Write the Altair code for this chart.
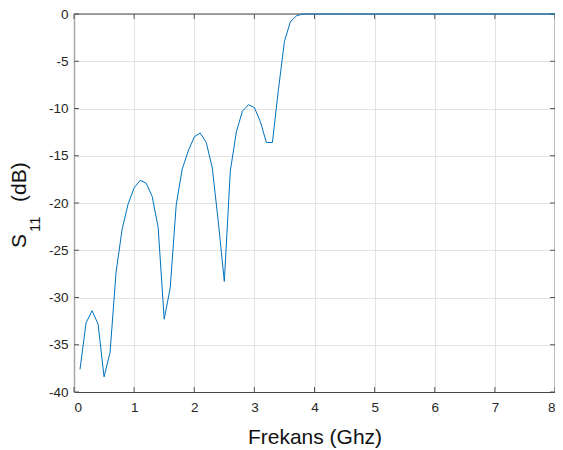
import altair as alt
import pandas as pd

# Frequency (GHz) and S11 (dB)
freq_ghz = [0.1, 0.2, 0.3, 0.4, 0.5, 0.6, 0.7, 0.8, 0.9, 1.0,
            1.1, 1.2, 1.3, 1.4, 1.5, 1.6, 1.7, 1.8, 1.9, 2.0,
            2.1, 2.2, 2.3, 2.4, 2.5, 2.6, 2.7, 2.8, 2.9, 3.0,
            3.1, 3.2, 3.3, 3.4, 3.5, 3.6, 3.7, 3.8, 3.9, 4.0,
            4.5, 5.0, 5.5, 6.0, 6.5, 7.0, 7.5, 8.0]
s11_db = [-37.6, -32.7, -31.4, -32.8, -38.4, -35.8, -27.3, -22.8, -20.1, -18.4,
          -17.6, -17.9, -19.3, -22.6, -32.3, -29.0, -20.2, -16.4, -14.5, -13.0,
          -12.6, -13.6, -16.3, -22.0, -28.3, -16.6, -12.5, -10.3, -9.6, -9.9,
          -11.4, -13.6, -13.6, -8.0, -2.9, -0.8, -0.2, 0.0, 0.0, 0.0,
          0.0, 0.0, 0.0, 0.0, 0.0, 0.0, 0.0, 0.0]

x_ticks = [0, 1, 2, 3, 4, 5, 6, 7, 8]
y_ticks = [-40, -35, -30, -25, -20, -15, -10, -5, 0]

x_title = "Frekans (Ghz)"
y_title_main = "S"
y_title_sub = "11"
y_title_rest = "(dB)"

W, H = 481, 378
FONT = "Liberation Sans"
TXT = "#262626"
LINE = "#0072BD"
GRID = "#e3e3e3"
TICK = "#555555"

df = pd.DataFrame({"f": freq_ghz, "s": s11_db})
xt = pd.DataFrame({"v": x_ticks})
yt = pd.DataFrame({"v": y_ticks})

xscale = alt.Scale(domain=[0, 8], nice=False, zero=False)
yscale = alt.Scale(domain=[-40, 0], nice=False, zero=False)

xaxis = alt.Axis(values=x_ticks, labelExpr="'' + datum.value", ticks=False, grid=True,
                 gridColor=GRID, gridWidth=1,
                 domainColor="#444444", domainWidth=1, labelFont=FONT, labelFontSize=13.5,
                 labelColor=TXT, labelPadding=8, title=x_title, titleFont=FONT,
                 titleFontSize=21, titleFontWeight="normal", titleColor="#111111",
                 titleBaseline="alphabetic", titleY=51)
yaxis = alt.Axis(values=y_ticks, labelExpr="'' + datum.value", ticks=False, grid=True,
                 gridColor=GRID, gridWidth=1,
                 domainColor="#a8a8a8", domainWidth=1.5, labelFont=FONT, labelFontSize=13.5,
                 labelColor=TXT, labelPadding=6, title=None)

line = alt.Chart(df).mark_line(color=LINE, strokeWidth=1).encode(
    x=alt.X("f:Q", scale=xscale, axis=xaxis),
    y=alt.Y("s:Q", scale=yscale, axis=yaxis),
)

bottom_ticks = alt.Chart(xt).mark_rule(color=TICK, strokeWidth=1).encode(
    x=alt.X("v:Q", scale=xscale), y=alt.value(H), y2=alt.value(H - 5))
top_ticks = alt.Chart(xt).mark_rule(color=TICK, strokeWidth=1).encode(
    x=alt.X("v:Q", scale=xscale), y=alt.value(0), y2=alt.value(5))
left_ticks = alt.Chart(yt).mark_rule(color=TICK, strokeWidth=1).encode(
    y=alt.Y("v:Q", scale=yscale), x=alt.value(0), x2=alt.value(5))
right_ticks = alt.Chart(yt).mark_rule(color=TICK, strokeWidth=1).encode(
    y=alt.Y("v:Q", scale=yscale), x=alt.value(W), x2=alt.value(W - 5))

one = pd.DataFrame({"k": [0]})
top_line = alt.Chart(one).mark_rule(color="#444444", strokeWidth=1).encode(
    x=alt.value(0), x2=alt.value(W), y=alt.value(0))
right_line = alt.Chart(one).mark_rule(color="#a8a8a8", strokeWidth=1.5).encode(
    x=alt.value(W), y=alt.value(0), y2=alt.value(H))

t_main = alt.Chart(one).mark_text(angle=270, align="left", baseline="alphabetic",
                                  font=FONT, fontSize=21, color="#111111").encode(
    x=alt.value(-48), y=alt.value(234), text=alt.value(y_title_main))
t_sub = alt.Chart(one).mark_text(angle=270, align="left", baseline="alphabetic",
                                 font=FONT, fontSize=15, color="#111111").encode(
    x=alt.value(-34), y=alt.value(218), text=alt.value(y_title_sub))
t_rest = alt.Chart(one).mark_text(angle=270, align="left", baseline="alphabetic",
                                  font=FONT, fontSize=21, color="#111111").encode(
    x=alt.value(-48), y=alt.value(188), text=alt.value(y_title_rest))

chart = alt.layer(
    top_line, right_line, bottom_ticks, top_ticks, left_ticks, right_ticks,
    line, t_main, t_sub, t_rest
).properties(
    width=W, height=H,
    autosize=alt.AutoSizeParams(type="none"),
    padding={"left": 66, "top": 6, "right": 0, "bottom": 56},
).configure_view(stroke=None).configure(background="white")

chart.save("out.html", embed_options={"renderer": "svg", "actions": False})
